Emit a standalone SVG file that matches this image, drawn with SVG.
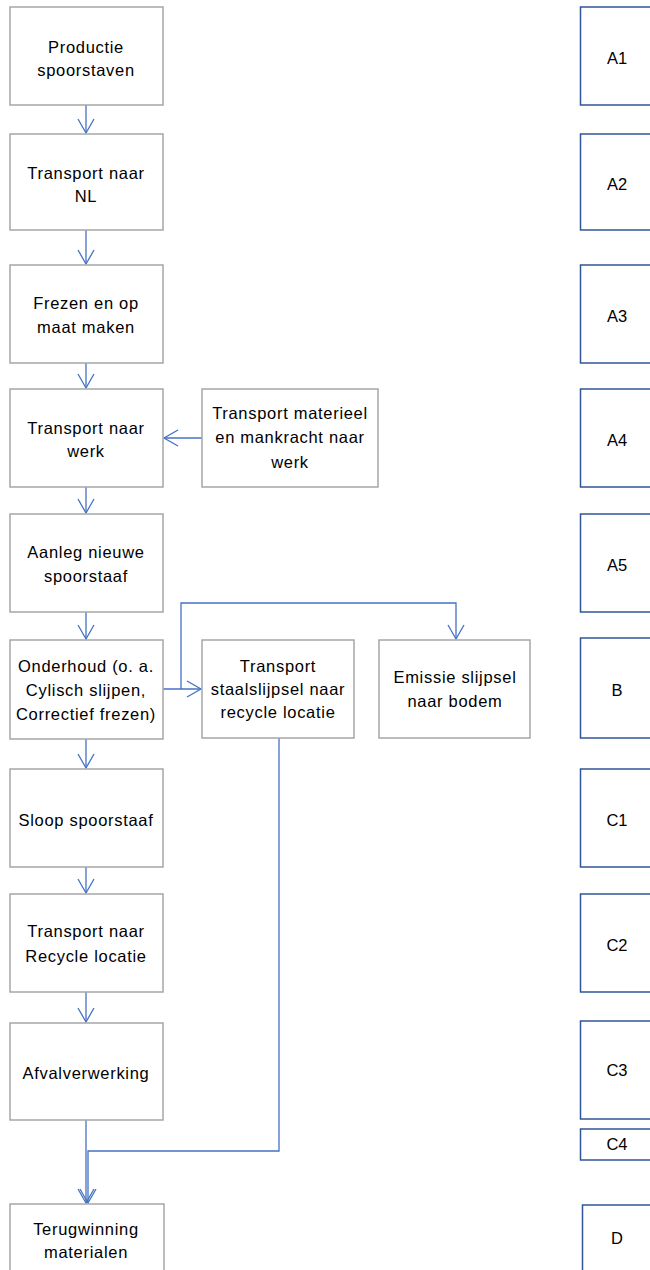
<svg xmlns="http://www.w3.org/2000/svg" width="650" height="1270" viewBox="0 0 650 1270">
<style>
.b{fill:#fff;stroke:#A6A6A6;stroke-width:1.5}
.r{fill:#fff;stroke:#2F5597;stroke-width:1.5}
.t{font-family:"Liberation Sans",Arial,sans-serif;font-size:16.5px;letter-spacing:0.7px;fill:#000;text-anchor:middle}
.l{font-family:"Liberation Sans",Arial,sans-serif;font-size:16.5px;fill:#000;text-anchor:middle}
.c{fill:none;stroke:#4472C4;stroke-width:1.3}
</style>
<defs>
<marker id="a" markerUnits="userSpaceOnUse" markerWidth="18" markerHeight="18" refX="15" refY="9" orient="auto">
<path d="M1,1 L15,9 L1,17" fill="none" stroke="#4472C4" stroke-width="1.3"/>
</marker>
</defs>
<rect width="650" height="1270" fill="#fff"/>
<g id="connectors">
<path class="c" d="M86,105 V133" marker-end="url(#a)"/>
<path class="c" d="M86,230 V264" marker-end="url(#a)"/>
<path class="c" d="M86,363 V388" marker-end="url(#a)"/>
<path class="c" d="M86,487 V513" marker-end="url(#a)"/>
<path class="c" d="M86,612 V639" marker-end="url(#a)"/>
<path class="c" d="M86,739 V768" marker-end="url(#a)"/>
<path class="c" d="M86,867 V893" marker-end="url(#a)"/>
<path class="c" d="M86,992 V1022" marker-end="url(#a)"/>
<path class="c" d="M86,1120 V1203" marker-end="url(#a)"/>
<path class="c" d="M202,438 H164" marker-end="url(#a)"/>
<path class="c" d="M163,689 H201" marker-end="url(#a)"/>
<path class="c" d="M181,689 V603 H456 V639" marker-end="url(#a)"/>
<path class="c" d="M279,738 V1151 H88 V1203" marker-end="url(#a)"/>
</g>
<g id="n1"><rect class="b" x="10" y="7" width="153" height="98"/><text class="t" x="86" y="53">Productie</text><text class="t" x="86" y="76">spoorstaven</text></g>
<g id="n2"><rect class="b" x="10" y="134" width="153" height="96"/><text class="t" x="86" y="179">Transport naar</text><text class="t" x="86" y="202">NL</text></g>
<g id="n3"><rect class="b" x="10" y="265" width="153" height="98"/><text class="t" x="86" y="309">Frezen en op</text><text class="t" x="86" y="333">maat maken</text></g>
<g id="n4"><rect class="b" x="10" y="389" width="153" height="98"/><text class="t" x="86" y="434">Transport naar</text><text class="t" x="86" y="457">werk</text></g>
<g id="n5"><rect class="b" x="10" y="514" width="153" height="98"/><text class="t" x="86" y="558">Aanleg nieuwe</text><text class="t" x="86" y="582">spoorstaaf</text></g>
<g id="n6"><rect class="b" x="10" y="640" width="153" height="99"/><text class="t" x="86" y="672">Onderhoud (o. a.</text><text class="t" x="86" y="696">Cylisch slijpen,</text><text class="t" x="86" y="720">Correctief frezen)</text></g>
<g id="n7"><rect class="b" x="10" y="769" width="153" height="98"/><text class="t" x="86" y="826">Sloop spoorstaaf</text></g>
<g id="n8"><rect class="b" x="10" y="894" width="153" height="98"/><text class="t" x="86" y="937">Transport naar</text><text class="t" x="86" y="962">Recycle locatie</text></g>
<g id="n9"><rect class="b" x="10" y="1023" width="153" height="97"/><text class="t" x="86" y="1079">Afvalverwerking</text></g>
<g id="n10"><rect class="b" x="10" y="1204" width="154" height="80"/><text class="t" x="86" y="1235">Terugwinning</text><text class="t" x="86" y="1258">materialen</text></g>
<g id="n11"><rect class="b" x="202" y="389" width="176" height="98"/><text class="t" x="290" y="419">Transport materieel</text><text class="t" x="290" y="443">en mankracht naar</text><text class="t" x="290" y="468">werk</text></g>
<g id="n12"><rect class="b" x="202" y="640" width="152" height="98"/><text class="t" x="278" y="672">Transport</text><text class="t" x="278" y="695">staalslijpsel naar</text><text class="t" x="278" y="718">recycle locatie</text></g>
<g id="n13"><rect class="b" x="379" y="640" width="151" height="98"/><text class="t" x="455" y="683">Emissie slijpsel</text><text class="t" x="455" y="707">naar bodem</text></g>
<g id="A1"><rect class="r" x="580.5" y="7" width="90" height="98"/><text class="l" x="617" y="64">A1</text></g>
<g id="A2"><rect class="r" x="580.5" y="134" width="90" height="96"/><text class="l" x="617" y="190">A2</text></g>
<g id="A3"><rect class="r" x="580.5" y="265" width="90" height="98"/><text class="l" x="617" y="322">A3</text></g>
<g id="A4"><rect class="r" x="580.5" y="389" width="90" height="98"/><text class="l" x="617" y="446">A4</text></g>
<g id="A5"><rect class="r" x="580.5" y="514" width="90" height="98"/><text class="l" x="617" y="571">A5</text></g>
<g id="B"><rect class="r" x="580.5" y="638" width="90" height="100"/><text class="l" x="617" y="696">B</text></g>
<g id="C1"><rect class="r" x="580.5" y="769" width="90" height="98"/><text class="l" x="617" y="826">C1</text></g>
<g id="C2"><rect class="r" x="580.5" y="894" width="90" height="98"/><text class="l" x="617" y="951">C2</text></g>
<g id="C3"><rect class="r" x="580.5" y="1021" width="90" height="98"/><text class="l" x="617" y="1076">C3</text></g>
<g id="C4"><rect class="r" x="580.5" y="1129" width="90" height="31"/><text class="l" x="617" y="1150">C4</text></g>
<g id="D"><rect class="r" x="582.5" y="1205" width="90" height="80"/><text class="l" x="617" y="1244">D</text></g>
</svg>
